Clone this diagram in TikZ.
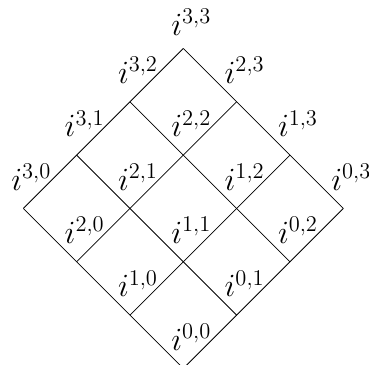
\documentclass[tikz,border=0pt]{standalone}
\begin{document}
\begin{tikzpicture}[lab/.style={anchor=base,font=\LARGE,inner sep=0pt}]
\useasboundingbox (-3.437,0.065) rectangle (3.482,6.909);
\foreach \p in {0,...,3}{\foreach \q in {0,...,3}{\coordinate (v\p\q) at (\q-\p,\p+\q);}}
\foreach \k in {0,...,3}{\draw (v\k0) -- (v\k3); \draw (v0\k) -- (v3\k);}
\foreach \p/\q in {0/0,0/1,0/2,0/3,1/0,1/1,1/2,1/3,2/0,2/1,2/2,2/3,3/0,3/1,3/2}{
  \node[lab,xshift=0.15cm,yshift=0.34cm] (l\p\q) at (v\p\q) {$i^{\p,\q}$};}
\node[lab,xshift=0.15cm,yshift=0.25cm] (l33) at (v33) {$i^{3,3}$};
\end{tikzpicture}
\end{document}
